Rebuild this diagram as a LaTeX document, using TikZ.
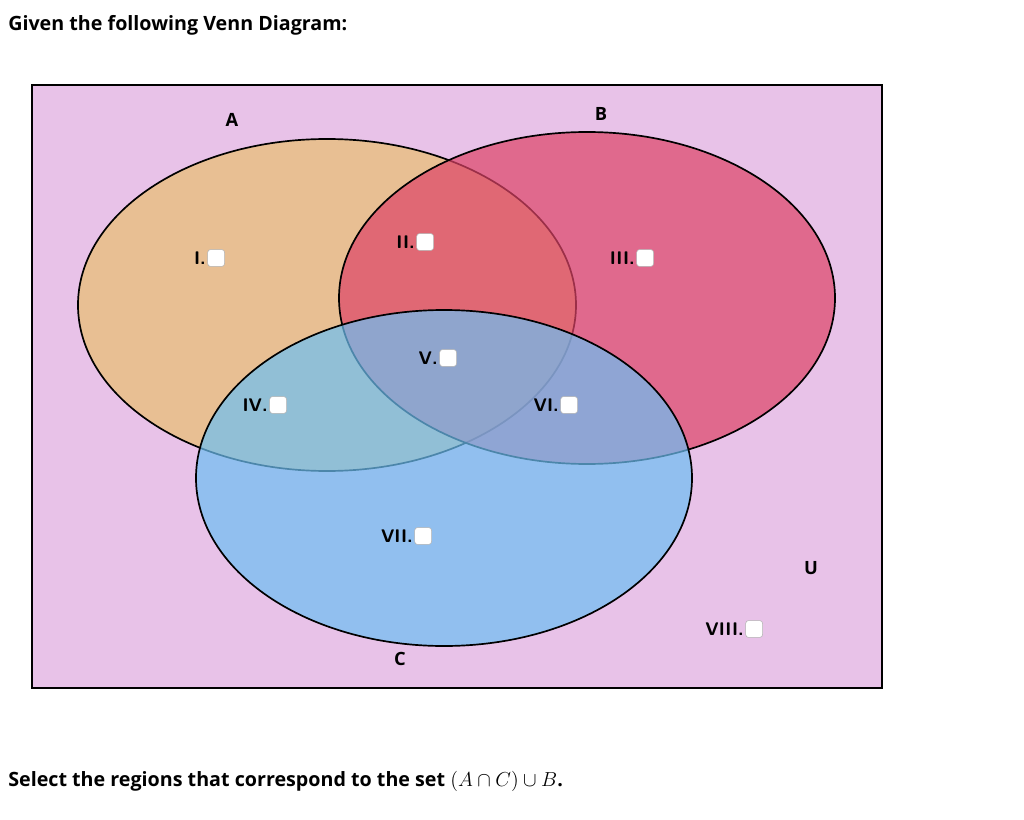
\documentclass[tikz,border=0pt]{standalone}
\usepackage{fontspec}
\setmainfont{Open Sans}
\usetikzlibrary{positioning}
\definecolor{bgpink}{RGB}{232,194,232}
\definecolor{setA}{RGB}{232,190,111}
\definecolor{setB}{RGB}{221,68,103}
\definecolor{setC}{RGB}{109,191,243}
\begin{document}
\begin{tikzpicture}[x=0.025cm,y=-0.025cm,
		lbl/.style={font=\bfseries\sffamily\fontsize{13}{15}\selectfont,inner sep=0pt,anchor=east},
		chk/.style={draw=gray!60,fill=white,rounded corners=2pt,minimum width=12pt,minimum height=12pt,inner sep=0pt},
		setname/.style={font=\bfseries\fontsize{13}{15}\selectfont,inner sep=0pt}]
		\useasboundingbox (0,0) rectangle (1024,820);

		% Title and question
		\node[anchor=west,inner sep=0pt,font=\bfseries\fontsize{14}{16}\selectfont] (title) at (8,25)
			{Given the following Venn Diagram:};
		\node[anchor=west,inner sep=0pt,font=\bfseries\fontsize{14}{16}\selectfont] (question) at (8,781)
			{Select the regions that correspond to the set $(A\cap C)\cup B$.};

		% Universe
		\draw[line width=2pt,fill=bgpink] (32,85) rectangle (882,688);

		% Sets
		\draw[line width=1.2pt,fill=setA,fill opacity=0.7] (327,305) ellipse [x radius=249,y radius=166];
		\draw[line width=1.2pt,fill=setB,fill opacity=0.7] (587,298) ellipse [x radius=248,y radius=166];
		\draw[line width=1.2pt,fill=setC,fill opacity=0.7] (444,478) ellipse [x radius=248,y radius=168];

		% Set names
		\node[setname] (A) at (232,120) {A};
		\node[setname] (B) at (601,114) {B};
		\node[setname] (C) at (400,659) {C};
		\node[setname] (U) at (811,568) {U};

		% Region labels with check boxes
		\foreach \name/\txt/\x/\y in {r1/I./206/258, r2/II./415/242, r3/III./635/258,
				r4/IV./268/405, r5/V./438/358, r6/VI./559/405, r7/VII./413/536, r8/VIII./744/629} {
			\node[lbl] (\name) at (\x,\y) {\txt};
			\node[chk,right=1pt of \name] (\name box) {};
		}
	\end{tikzpicture}
\end{document}
